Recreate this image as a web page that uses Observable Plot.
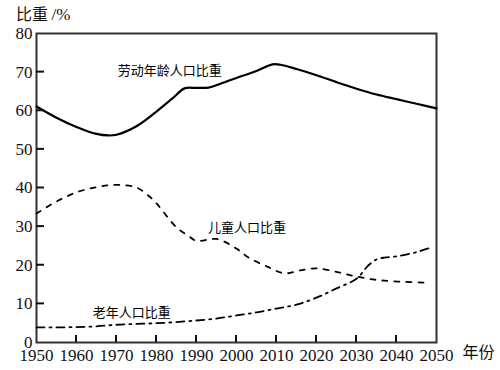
<!DOCTYPE html>
<html>
<head>
<meta charset="utf-8">
<script src="https://cdn.jsdelivr.net/npm/d3@7"></script>
<script src="https://cdn.jsdelivr.net/npm/@observablehq/plot@0.6"></script>
<style>
  html, body { margin: 0; padding: 0; background: #fff; }
  #chart { position: relative; width: 500px; height: 370px; }
  #ylabel { position: absolute; left: 16px; top: 2px; font: 16px "Noto Sans CJK SC", sans-serif; color: #111; line-height: 22px; }
  #ylabel .u { font-family: "Liberation Serif", serif; font-size: 17px; }
</style>
</head>
<body>
<div id="chart"><div id="ylabel">比重 <span class="u">/%</span></div></div>
<script>
// Years (x) and shares (%)
const laborYears  = [1950, 1955, 1960, 1965, 1968, 1970, 1975, 1980, 1984, 1987, 1990, 1993, 1996, 2000, 2005, 2009, 2011, 2015, 2020, 2025, 2030, 2035, 2040, 2045, 2050];
const laborValues = [61.1, 58.2, 55.8, 54.0, 53.6, 53.8, 56.0, 59.8, 63.2, 65.8, 65.9, 66.0, 67.0, 68.5, 70.3, 72.0, 71.9, 70.8, 69.2, 67.4, 65.7, 64.2, 63.0, 61.8, 60.6];

const childYears  = [1950, 1955, 1960, 1965, 1970, 1975, 1978, 1980, 1985, 1988, 1990, 1995, 2000, 2003, 2008, 2012, 2016, 2020, 2025, 2029, 2033, 2037, 2042, 2047];
const childValues = [33.4, 36.5, 38.9, 40.2, 40.8, 40.1, 38.0, 36.0, 29.8, 27.6, 26.3, 26.8, 24.3, 22.0, 19.5, 17.9, 18.7, 19.2, 18.3, 17.3, 16.5, 16.0, 15.7, 15.5];

const oldYears  = [1950, 1955, 1960, 1965, 1970, 1975, 1980, 1985, 1990, 1995, 2000, 2005, 2010, 2015, 2020, 2025, 2030, 2033, 2035, 2037, 2040, 2045, 2049];
const oldValues = [3.9, 3.9, 4.0, 4.2, 4.6, 4.8, 5.0, 5.3, 5.7, 6.2, 7.0, 7.8, 8.8, 9.8, 11.6, 14.0, 16.5, 20.0, 21.5, 22.0, 22.3, 23.4, 24.7];

const xTicks = [1950, 1960, 1970, 1980, 1990, 2000, 2010, 2020, 2030, 2040, 2050];
const xInnerTicks = [1960, 1970, 1980, 1990, 2000, 2010, 2020, 2030, 2040];
const yTicks = [0, 10, 20, 30, 40, 50, 60, 70, 80];
const yInnerTicks = [10, 20, 30, 40, 50, 60, 70];

const seriesLabels = ["劳动年龄人口比重", "儿童人口比重", "老年人口比重"];
const labelYears   = [1983.3, 2002.6, 1973.8];
const labelValues  = [70.4, 29.8, 7.8];
const xUnit = "年份";

const labor = laborYears.map((x, i) => ({x, y: laborValues[i]}));
const child = childYears.map((x, i) => ({x, y: childValues[i]}));
const old = oldYears.map((x, i) => ({x, y: oldValues[i]}));
const labels = seriesLabels.map((t, i) => ({t, x: labelYears[i], y: labelValues[i]}));

const serif = "'Liberation Serif', 'Times New Roman', serif";
const cjk = "'Noto Sans CJK SC', sans-serif";

const chart = Plot.plot({
  width: 500,
  height: 370,
  marginLeft: 36,
  marginRight: 64,
  marginTop: 33,
  marginBottom: 28,
  style: {background: "#fff", color: "#111"},
  x: {domain: [1950, 2050]},
  y: {domain: [0, 80]},
  marks: [
    Plot.frame({stroke: "#333", strokeWidth: 2, fill: "none"}),
    Plot.axisX({ticks: xTicks, tickSize: 0, tickPadding: 6, tickFormat: d => String(d), fontSize: 17, fontFamily: serif, label: null}),
    Plot.axisY({ticks: yTicks, tickSize: 0, tickPadding: 4, fontSize: 17, fontFamily: serif, label: null}),
    Plot.line(labor, {x: "x", y: "y", curve: "catmull-rom", stroke: "#000", strokeWidth: 2.2}),
    Plot.line(child, {x: "x", y: "y", curve: "catmull-rom", stroke: "#000", strokeWidth: 1.8, strokeDasharray: "5,7"}),
    Plot.line(old, {x: "x", y: "y", curve: "catmull-rom", stroke: "#000", strokeWidth: 1.8, strokeDasharray: "8,5,2,5"}),
    Plot.text(labels, {x: "x", y: "y", text: "t", fontSize: 13, fontFamily: cjk, fill: "#000"}),
    Plot.text([xUnit], {frameAnchor: "bottom-right", text: d => d, dx: 58, dy: 15, textAnchor: "end", fontSize: 16, fontFamily: cjk, fill: "#111"})
  ]
});

// inward tick marks, positioned through the chart's own scales
const sx = chart.scale("x"), sy = chart.scale("y");
const x0 = sx.apply(xTicks[0]), y0 = sy.apply(yTicks[0]);
const g = d3.select(chart).append("g").attr("stroke", "#111").attr("stroke-width", 2);
g.selectAll(null).data(xInnerTicks).join("line")
  .attr("x1", d => sx.apply(d)).attr("x2", d => sx.apply(d))
  .attr("y1", y0).attr("y2", y0 - 7);
g.selectAll(null).data(yInnerTicks).join("line")
  .attr("y1", d => sy.apply(d)).attr("y2", d => sy.apply(d))
  .attr("x1", x0).attr("x2", x0 + 8);

document.getElementById("chart").appendChild(chart);
</script>
</body>
</html>
